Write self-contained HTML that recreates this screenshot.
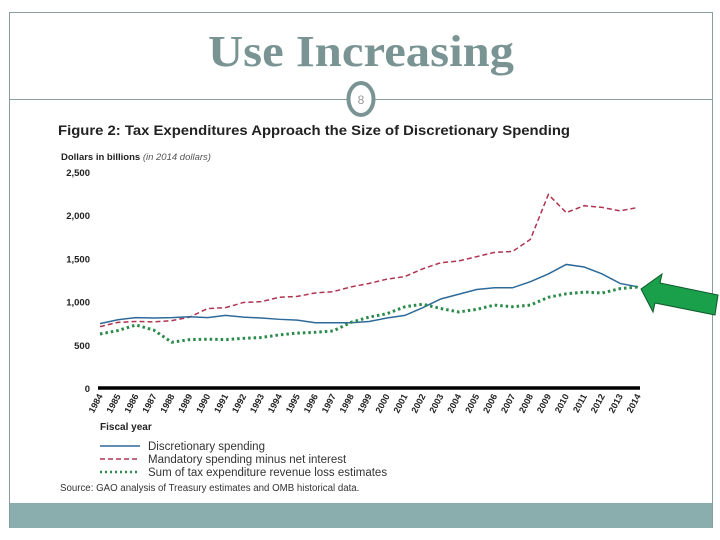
<!DOCTYPE html>
<html><head><meta charset="utf-8"><style>
body{margin:0;width:720px;height:540px;background:#fff;overflow:hidden;font-family:"Liberation Sans",sans-serif}
svg{display:block}
</style></head><body>
<svg width="720" height="540">
<rect x="9.5" y="12.5" width="703" height="515" fill="#fff" stroke="#8a9c9c"/>
<rect x="10" y="503" width="702" height="25" fill="#8aaeae"/>
<text x="208" y="66" textLength="306" lengthAdjust="spacingAndGlyphs" font-family="Liberation Serif,serif" font-weight="bold" font-size="44" fill="#7a9494">Use Increasing</text>
<line x1="10" y1="99.5" x2="712" y2="99.5" stroke="#8a9c9c"/>
<ellipse cx="361" cy="99" rx="12.5" ry="16" fill="#fff" stroke="#7a9494" stroke-width="4"/>
<text x="361" y="104" text-anchor="middle" font-size="12" fill="#999">8</text>
<text x="58" y="135" textLength="512" lengthAdjust="spacingAndGlyphs" font-size="14" font-weight="bold" fill="#222">Figure 2: Tax Expenditures Approach the Size of Discretionary Spending</text>
<text x="61" y="160" font-size="9.5" font-weight="bold" fill="#222">Dollars in billions <tspan font-style="italic" font-weight="normal" fill="#555">(in 2014 dollars)</tspan></text>
<g id="plot"></g>
<text x="100" y="430" font-size="10" font-weight="bold" fill="#222">Fiscal year</text>
<g>
<line x1="100" y1="446" x2="140" y2="446" stroke="#2d6a9a" stroke-width="1.5"/>
<text x="148" y="450" font-size="11.5" fill="#333">Discretionary spending</text>
<line x1="100" y1="459" x2="140" y2="459" stroke="#b0334f" stroke-width="1.5" stroke-dasharray="5,3"/>
<text x="148" y="463" font-size="11.5" fill="#333">Mandatory spending minus net interest</text>
<line x1="100" y1="472" x2="140" y2="472" stroke="#2a8a4a" stroke-width="2.5" stroke-dasharray="2,3"/>
<text x="148" y="476" font-size="11.5" fill="#333">Sum of tax expenditure revenue loss estimates</text>
</g>
<text x="60" y="491" font-size="9.7" fill="#333">Source: GAO analysis of Treasury estimates and OMB historical data.</text>
<polygon points="641,289 662,274 660,283 718,295 715,315 655,303 653,312" fill="#1aa04a" stroke="#0d5a2a" stroke-width="1"/>
</svg>
<script>
const years=[1984,1985,1986,1987,1988,1989,1990,1991,1992,1993,1994,1995,1996,1997,1998,1999,2000,2001,2002,2003,2004,2005,2006,2007,2008,2009,2010,2011,2012,2013,2014];
const discretionary=[745,790,815,810,815,825,815,840,820,810,795,785,755,755,755,770,810,840,930,1030,1085,1140,1160,1160,1230,1320,1430,1400,1320,1210,1170];
const mandatory=[710,760,770,765,780,820,920,930,990,1000,1050,1060,1100,1115,1170,1210,1260,1290,1380,1450,1470,1520,1570,1580,1720,2240,2030,2110,2090,2050,2090];
const taxExp=[625,665,730,670,530,560,565,560,575,585,615,635,645,660,760,820,860,940,970,920,880,910,960,940,960,1050,1090,1110,1100,1150,1170];
const yTicks=[0,500,1000,1500,2000,2500];
const yTickLabels=["0","500","1,000","1,500","2,000","2,500"];
const NS="http://www.w3.org/2000/svg";
const g=document.getElementById('plot');
const x=i=>100+i*(538/(years.length-1));
const y=v=>388-v*216/2500;
function mk(t,a){const e=document.createElementNS(NS,t);for(const k in a)e.setAttribute(k,a[k]);g.appendChild(e);return e;}
yTicks.forEach((v,i)=>{const t=mk('text',{x:90,y:y(v)+4,'text-anchor':'end','font-size':'9.5','font-weight':'bold',fill:'#222'});t.textContent=yTickLabels[i];

});
const ax=mk('line',{x1:98,y1:388,x2:640,y2:388,stroke:'#000','stroke-width':3.5});


years.forEach((yr,i)=>{const t=mk('text',{x:x(i)+3,y:396,'text-anchor':'end','font-size':'9','font-weight':'bold',fill:'#222',transform:`rotate(-62 ${x(i)+3} 396)`});t.textContent=yr;

});
function series(d,st,name){const p=mk('polyline',Object.assign({points:d.map((v,i)=>x(i)+','+y(v)).join(' '),fill:'none'},st));

}
series(mandatory,{stroke:'#b0334f','stroke-width':1.5,'stroke-dasharray':'5,3'},'mandatory-line');
series(discretionary,{stroke:'#2d6a9a','stroke-width':1.5},'discretionary-line');
series(taxExp,{stroke:'#2a8a4a','stroke-width':3,'stroke-dasharray':'2.5,3'},'tax-expenditure-line');
</script>
</body></html>
